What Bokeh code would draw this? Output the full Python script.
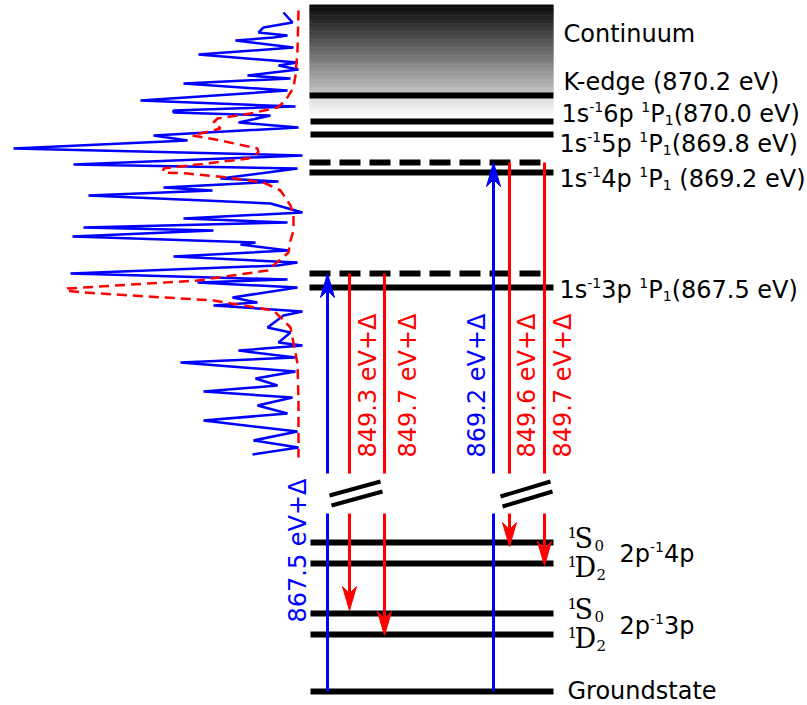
import numpy as np
from bokeh.plotting import figure
from bokeh.models import Range1d
from bokeh.core.properties import value
from bokeh.embed import file_html
from bokeh.resources import INLINE

W, H = 807, 705
FONT = "DejaVu Sans"
SERIF = "DejaVu Serif"
BLUE = "#0000ff"
RED = "#ff0000"
NBSP = "\u00a0"

# ---------------- data ----------------
# solid energy levels (diagram rows, top = high energy)
level_y = [95, 121, 134, 172, 287, 542, 563, 613, 634, 691]
level_x0 = [309, 310, 310, 309, 309, 310, 310, 310, 310, 310]
level_x1 = [553, 553, 553, 553, 553, 553, 553, 553, 553, 553]

# dashed (detuned, +Delta) levels
virtual_y = [162, 273]
virtual_x0 = [309, 309]
virtual_x1 = [543, 543]

# continuum band
cont_top, cont_bottom = 4, 93
edge_fade_top, edge_fade_bottom = 98, 118
cont_x0, cont_x1 = 309, 553

# transitions
trans_x = [327, 349, 384, 493, 509, 544]
trans_color = [BLUE, RED, RED, BLUE, RED, RED]
upper_start = [473, 273, 273, 473, 162, 162]
upper_end = [273, 473, 473, 162, 473, 473]
lower_start = [691, 513, 513, 691, 513, 513]
lower_end = [513, 610, 635, 513, 546, 565]
head_on_upper = [True, False, False, True, False, False]

trans_labels = ["867.5 eV+Δ", "849.3 eV+Δ", "849.7 eV+Δ", "869.2 eV+Δ", "849.6 eV+Δ", "849.7 eV+Δ"]
trans_label_x = [297, 367, 407, 476, 526, 562]
trans_label_y = [550, 385, 385, 385, 385, 385]
trans_label_color = [BLUE, RED, RED, BLUE, RED, RED]

# axis break marks
break_x0 = [329, 331, 500, 502]
break_y0 = [495, 505, 496, 506]
break_x1 = [380, 382, 550, 552]
break_y1 = [481, 491, 481, 491]

# right-hand labels: pieces of (text, kind), kind n = normal, sup, sub
right_labels = [
    [("Continuum", "n")],
    [("K-edge (870.2 eV)", "n")],
    [("1s", "n"), ("-1", "sup"), ("6p", "n"), (" ", "gap"), ("1", "sup"), ("P", "n"), ("1", "sub"), ("(870.0 eV)", "n")],
    [("1s", "n"), ("-1", "sup"), ("5p", "n"), (" ", "gap"), ("1", "sup"), ("P", "n"), ("1", "sub"), ("(869.8 eV)", "n")],
    [("1s", "n"), ("-1", "sup"), ("4p", "n"), (" ", "gap"), ("1", "sup"), ("P", "n"), ("1", "sub"), (" ", "gap"), ("(869.2 eV)", "n")],
    [("1s", "n"), ("-1", "sup"), ("3p", "n"), (" ", "gap"), ("1", "sup"), ("P", "n"), ("1", "sub"), ("(867.5 eV)", "n")],
    [("2p", "n"), ("-1", "sup"), ("4p", "n")],
    [("2p", "n"), ("-1", "sup"), ("3p", "n")],
    [("Groundstate", "n")],
]
right_label_x = [563, 563, 561, 559, 559, 559, 619, 619, 567]
right_label_y = [33, 81, 113, 143, 178, 289, 553, 625, 690]

term_rows = [542, 563, 613, 634]
term_letter = ["S", "D", "S", "D"]
term_sub = ["0", "2", "0", "2"]
term_offset = [-4, 4, -4, 4]

# spectra (energy row, detector signal)
spec_base = 300
blue_y = [12, 22, 27, 32, 35, 37, 40, 47, 54, 62, 65, 69, 75, 78, 83, 90, 100, 106, 110, 112,
          115, 122, 127, 135, 140, 148, 155, 164, 168, 178, 181, 187, 190, 195, 203, 212, 218,
          222, 227, 230, 236, 242, 244, 250, 256, 262, 265, 273, 279, 282, 287, 297, 302, 305,
          311, 315, 327, 332, 342, 345, 350, 357, 362, 371, 378, 385, 391, 397, 405, 413, 420,
          431, 440, 447, 454]
blue_signal = [17, 8, 37, 42, 13, 27, 65, 7, 102, 3, 22, 2, 53, 10, 117, 13, 160, 5, 127, 127,
               30, 62, 2, 147, 113, 287, -2, 227, 3, 80, 22, 137, 88, 212, 30, -2, 117,
               13, 217, 87, 228, 45, 60, 12, 127, 3, 23, 230, 13, 103, 3, 68, 43, 87,
               -2, 17, 33, 10, 22, -2, 62, 5, 120, 5, 45, 23, 97, 8, 43, 13, 97,
               3, 47, 2, 48]
red_y = [10, 50, 75, 87, 100, 107, 113, 118, 122, 128, 135, 140, 148, 152, 158, 168, 172, 173,
         177, 182, 190, 205, 215, 230, 240, 252, 270, 280, 288, 290, 292, 300, 310, 327, 363,
         400, 457]
red_signal = [2, 3, 5, 7, 15, 23, 50, 83, 87, 80, 108, 80, 43, 42, 52, 137, 137, 113,
              73, 37, 20, 10, 7, 7, 10, 12, 33, 103, 233, 235, 217, 87, 27, 10, 3,
              2, 2]

# ---------------- figure ----------------
p = figure(width=W, height=H, x_range=Range1d(0, W), y_range=Range1d(H, 0),
           output_backend="svg", toolbar_location=None, min_border=0)
p.axis.visible = False
p.grid.visible = False
p.outline_line_color = None
p.background_fill_color = "white"
p.border_fill_color = "white"

# continuum gradient
n = 100
edges = np.linspace(cont_top, cont_bottom, n + 1)
g = np.linspace(8, 195, n).astype(int)
p.quad(left=cont_x0, right=cont_x1, top=edges[:-1], bottom=edges[1:] + 0.6,
       fill_color=["#%02x%02x%02x" % (v, v, v) for v in g], line_color=None)
m = 30
edges2 = np.linspace(edge_fade_top, edge_fade_bottom, m + 1)
g2 = np.linspace(222, 255, m).astype(int)
p.quad(left=cont_x0, right=cont_x1, top=edges2[:-1], bottom=edges2[1:] + 0.6,
       fill_color=["#%02x%02x%02x" % (v, v, v) for v in g2], line_color=None)

# spectra
p.line([spec_base - s for s in blue_signal], blue_y, line_color=BLUE, line_width=2.5)
p.line([spec_base - s for s in red_signal], red_y, line_color=RED, line_width=2.5,
       line_dash="10 6")

# levels
p.segment(x0=level_x0, y0=level_y, x1=level_x1, y1=level_y, line_color="black", line_width=6)
p.segment(x0=virtual_x0, y0=virtual_y, x1=virtual_x1, y1=virtual_y, line_color="black",
          line_width=6, line_dash="21 9")

# transitions
HL, HN, HW = 24, 17, 7
seg_x, seg_y0, seg_y1, seg_c = [], [], [], []
head_xs, head_ys, head_c = [], [], []
for i, x in enumerate(trans_x):
    for (a, b, has_head) in [(upper_start[i], upper_end[i], head_on_upper[i]),
                             (lower_start[i], lower_end[i], not head_on_upper[i])]:
        d = 1 if b > a else -1
        end = b - d * HN if has_head else b
        seg_x.append(x); seg_y0.append(a); seg_y1.append(end); seg_c.append(trans_color[i])
        if has_head:
            head_xs.append([x, x + HW, x, x - HW])
            head_ys.append([b, b - d * HL, b - d * HN, b - d * HL])
            head_c.append(trans_color[i])
p.segment(x0=seg_x, y0=seg_y0, x1=seg_x, y1=seg_y1, line_color=seg_c, line_width=3)
p.patches(head_xs, head_ys, fill_color=head_c, line_color=head_c, line_width=1)

# break marks
p.segment(x0=break_x0, y0=break_y0, x1=break_x1, y1=break_y1, line_color="black", line_width=4)

# transition labels
p.text(x=trans_label_x, y=trans_label_y, text=trans_labels, angle=np.pi / 2,
       text_color=trans_label_color, text_font=value(FONT), text_font_size="24px",
       text_align="center", text_baseline="middle")

# right labels, composed from pieces (DejaVu Sans advance widths in em)
ADV = {"1": .636, "2": .636, "3": .636, "4": .636, "5": .636, "6": .636, "7": .636,
       "8": .636, "9": .636, "0": .636, "s": .521, "p": .635, " ": .318, "P": .603,
       "(": .390, ")": .390, ".": .318, "e": .615, "V": .684, "-": .361}
NORM, SMALL = 24, 14
pieces = {"n": ([], [], []), "sup": ([], [], []), "sub": ([], [], [])}
for lab, x0, y0 in zip(right_labels, right_label_x, right_label_y):
    cx = x0
    for txt, kind in lab:
        size = SMALL if kind in ("sup", "sub") else NORM
        if kind != "gap":
            dy = {"n": 0, "sup": -7, "sub": 6}[kind]
            xs, ys, ts = pieces[kind]
            xs.append(cx); ys.append(y0 + dy); ts.append(txt.replace(" ", NBSP))
        cx += sum(ADV.get(c, .62) for c in txt) * size
for kind, size in [("n", NORM), ("sup", SMALL), ("sub", SMALL)]:
    xs, ys, ts = pieces[kind]
    p.text(x=xs, y=ys, text=ts, text_font=value(FONT), text_font_size="%dpx" % size,
           text_align="left", text_baseline="middle", text_color="black")

# term symbols
cy = [r + o for r, o in zip(term_rows, term_offset)]
p.text(x=[567] * 4, y=[c - 6 for c in cy], text=["1"] * 4, text_font=value(SERIF),
       text_font_size="15px", text_align="left", text_baseline="middle", text_color="black")
p.text(x=[574] * 4, y=cy, text=term_letter, text_font=value(SERIF),
       text_font_size="27px", text_align="left", text_baseline="middle", text_color="black")
p.text(x=[594, 596, 594, 596], y=[c + 7 for c in cy], text=term_sub, text_font=value(SERIF),
       text_font_size="15px", text_align="left", text_baseline="middle", text_color="black")

open("out.html", "w").write(file_html(p, INLINE))
